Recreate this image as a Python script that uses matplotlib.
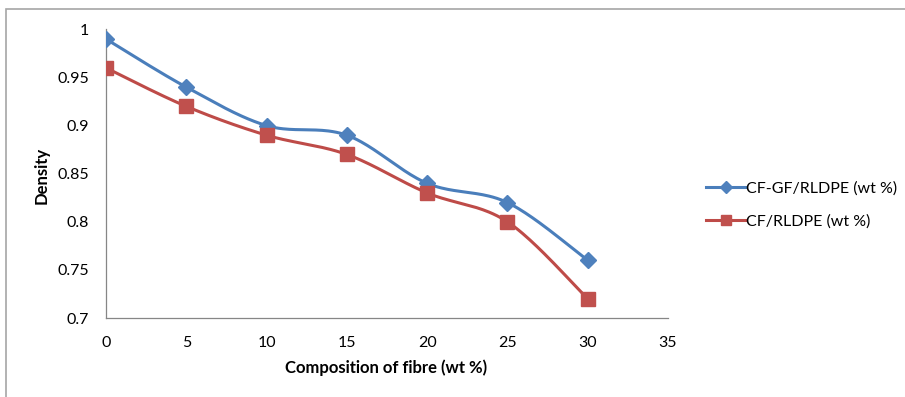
import numpy as np
import matplotlib
matplotlib.use("Agg")
import matplotlib.pyplot as plt
from matplotlib.patches import Rectangle

plt.rcParams['font.family'] = ['Lato', 'DejaVu Sans']

composition = [0, 5, 10, 15, 20, 25, 30]
cf_gf_rldpe = [0.99, 0.94, 0.90, 0.89, 0.84, 0.82, 0.76]
cf_rldpe = [0.96, 0.92, 0.89, 0.87, 0.83, 0.80, 0.72]
x_ticks = [0, 5, 10, 15, 20, 25, 30, 35]
y_ticks = [0.7, 0.75, 0.8, 0.85, 0.9, 0.95, 1]
y_tick_labels = ["0.7", "0.75", "0.8", "0.85", "0.9", "0.95", "1"]


def smooth(xs, ys, n=40):
    """Cardinal-spline smoothing through every point (Bezier, 1/6 tension)."""
    p = np.column_stack([xs, ys]).astype(float)
    out = []
    for i in range(len(p) - 1):
        p0 = p[i - 1] if i > 0 else p[i]
        p1, p2 = p[i], p[i + 1]
        p3 = p[i + 2] if i + 2 < len(p) else p[i + 1]
        c1 = p1 + (p2 - p0) / 6.0
        c2 = p2 - (p3 - p1) / 6.0
        t = np.linspace(0, 1, n)[:, None]
        seg = ((1 - t) ** 3) * p1 + 3 * ((1 - t) ** 2) * t * c1 + 3 * (1 - t) * t ** 2 * c2 + t ** 3 * p2
        out.append(seg if i == 0 else seg[1:])
    seg = np.vstack(out)
    return seg[:, 0], seg[:, 1]


fig = plt.figure(figsize=(9.05, 3.97), dpi=100)
ax = fig.add_axes([106 / 905, 1 - 318 / 397, (668 - 106) / 905, (318 - 29.4) / 397])

blue_line, blue_mark = "#4A7EBB", "#4F81BD"
red_line, red_mark = "#BE4B48", "#C0504D"

sx, sy = smooth(composition, cf_gf_rldpe)
ax.plot(sx, sy, color=blue_line, lw=2.2, solid_capstyle='round', zorder=3)
ax.plot(composition, cf_gf_rldpe, ls='none', marker='D', ms=8.5, color=blue_mark, zorder=4)

sx, sy = smooth(composition, cf_rldpe)
ax.plot(sx, sy, color=red_line, lw=2.2, solid_capstyle='round', zorder=3)
ax.plot(composition, cf_rldpe, ls='none', marker='s', ms=9.5, color=red_mark, zorder=4)

ax.set_xlim(0, 35)
ax.set_ylim(0.7, 1.0)
ax.set_xticks(x_ticks)
ax.set_xticklabels([str(v) for v in x_ticks])
ax.set_yticks(y_ticks)
ax.set_yticklabels(y_tick_labels)
ax.tick_params(length=0, labelsize=11.5, colors="#000000")
ax.tick_params(axis='x', pad=13)
ax.tick_params(axis='y', pad=12)
for side in ('top', 'right'):
    ax.spines[side].set_visible(False)
for side in ('left', 'bottom'):
    ax.spines[side].set_color("#868686")
    ax.spines[side].set_linewidth(0.9)

fig.text(386 / 905, 1 - 368 / 397, "Composition of fibre (wt %)", ha='center', va='center',
         fontsize=12, fontweight='bold')
fig.text(42 / 905, 1 - 175 / 397, "Density", ha='center', va='center', rotation=90,
         fontsize=12, fontweight='bold')

# legend
handles = [
    plt.Line2D([], [], color=blue_line, lw=2.2, marker='D', ms=6, markerfacecolor=blue_mark,
               markeredgecolor=blue_mark),
    plt.Line2D([], [], color=red_line, lw=2.2, marker='s', ms=6.5, markerfacecolor=red_mark,
               markeredgecolor=red_mark),
]
fig.legend(handles, ["CF-GF/RLDPE (wt %)", "CF/RLDPE (wt %)"], loc='center left',
           bbox_to_anchor=(692 / 905, 1 - 205 / 397), frameon=False, fontsize=11.5,
           handlelength=2.4, handletextpad=0.1, labelspacing=1.15)

# chart border
fig.patches.append(Rectangle((5.5 / 905, -0.1), 1.2, 1 - 8.5 / 397 + 0.1, transform=fig.transFigure,
                             fill=False, edgecolor="#A6A6A6", lw=1.2))

fig.savefig("out.png", dpi=100)
